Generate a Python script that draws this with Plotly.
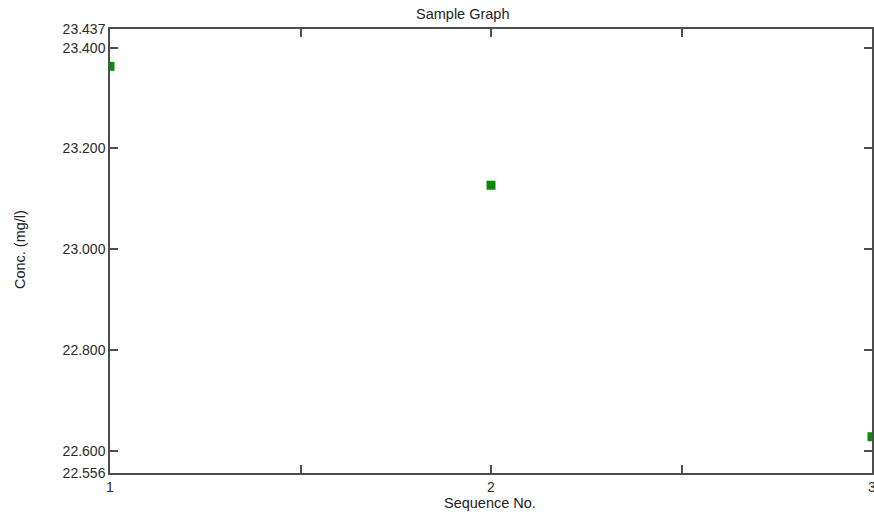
import plotly.graph_objects as go

seq = [1, 2, 3]
conc = [23.363, 23.127, 22.628]

y_ticks = [22.556, 22.600, 22.800, 23.000, 23.200, 23.400, 23.437]
y_labels = [f"{v:.3f}" for v in y_ticks]
x_ticks = [1, 1.5, 2, 2.5, 3]
x_labels = ["1", "", "2", "", "3"]

FONT = "Liberation Sans, Arial"

fig = go.Figure()
fig.add_trace(go.Scatter(
    x=seq, y=conc, mode="markers",
    marker=dict(symbol="square", size=9, color="#0a8a0a", line=dict(width=0)),
    cliponaxis=True, showlegend=False,
))

axis_common = dict(
    showgrid=False, zeroline=False, showline=True, linecolor="#4d4d4d", linewidth=1.5,
    ticks="inside", ticklen=8, tickwidth=1.5, tickcolor="#4d4d4d", mirror="ticks",
    automargin=False, ticklabeloverflow="allow",
    tickfont=dict(family=FONT, size=14, color="#2a2a2a"),
)

fig.update_layout(
    width=874, height=515,
    margin=dict(l=110, r=1.5, t=29, b=42, autoexpand=False),
    paper_bgcolor="white", plot_bgcolor="white",
    xaxis=dict(range=[1, 3], tickvals=x_ticks, ticktext=x_labels, **axis_common),
    yaxis=dict(range=[22.556, 23.437], tickvals=y_ticks, ticktext=y_labels, **axis_common),
    annotations=[
        dict(text="Sample Graph", x=463, y=515 - 14, showarrow=False,
             font=dict(family=FONT, size=14.5, color="#222222")),
        dict(text="Sequence No.", x=490, y=515 - 503, showarrow=False,
             font=dict(family=FONT, size=14.5, color="#222222")),
        dict(text="Conc. (mg/l)", x=20, y=515 - 250, showarrow=False, textangle=-90,
             font=dict(family=FONT, size=14.5, color="#222222")),
    ],
)

# convert pixel positions of annotations into paper coordinates
pw = 874 - 110 - 1.5
ph = 515 - 29 - 42
for a in fig.layout.annotations:
    a.xref = "paper"
    a.yref = "paper"
    a.x = (a.x - 110) / pw
    a.y = (a.y - 42) / ph
    a.xanchor = "center"
    a.yanchor = "middle"

fig.write_html(
    "out.html",
    config={"displayModeBar": False},
    post_script="document.body.style.margin='0';document.body.style.overflow='hidden';",
)
